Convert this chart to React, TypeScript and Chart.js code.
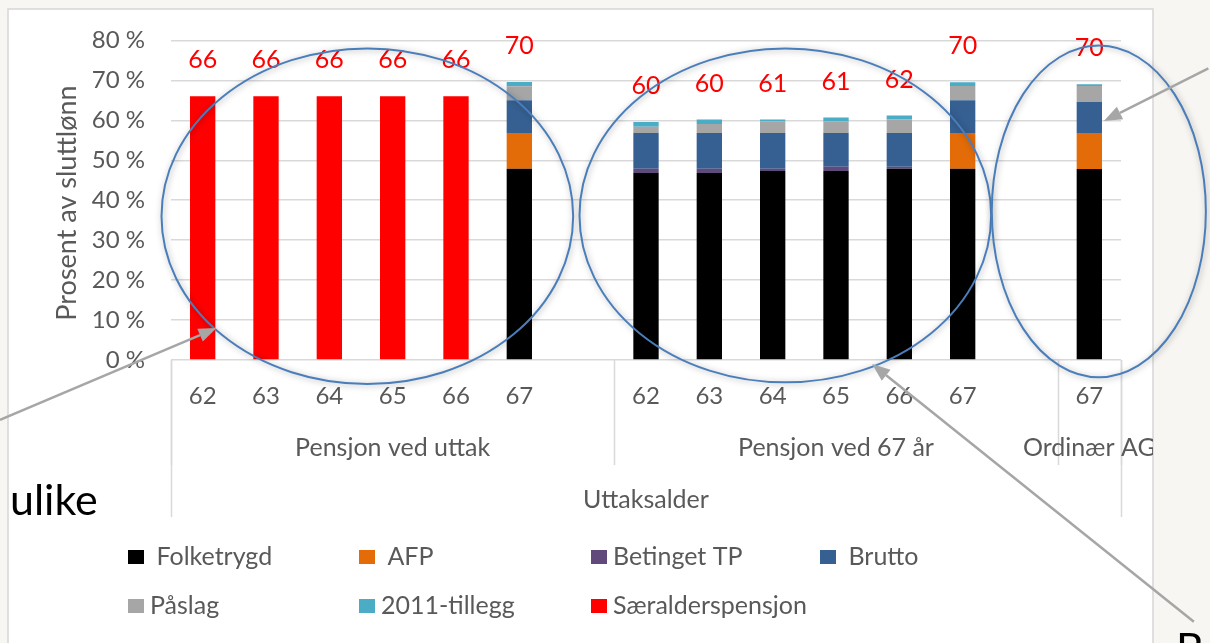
import React, { useEffect, useRef } from 'react';
import { Chart, registerables } from 'chart.js';

Chart.register(...registerables);

// ---------- data ----------
const categories = ['62', '63', '64', '65', '66', '67', '', '62', '63', '64', '65', '66', '67', '', '67'];
const folketrygd = [null, null, null, null, null, 47.9, null, 46.8, 46.8, 47.3, 47.3, 47.9, 47.9, null, 47.8];
const afp = [null, null, null, null, null, 8.9, null, null, null, null, null, null, 8.9, null, 9.0];
const betingetTP = [null, null, null, null, null, null, null, 1.1, 1.1, 0.6, 1.1, 0.5, null, null, null];
const brutto = [null, null, null, null, null, 8.2, null, 8.9, 8.9, 8.9, 8.4, 8.4, 8.2, null, 7.8];
const paslag = [null, null, null, null, null, 3.5, null, 1.6, 2.3, 2.9, 2.9, 3.4, 3.6, null, 4.0];
const tillegg2011 = [null, null, null, null, null, 1.1, null, 1.2, 1.1, 0.5, 1.0, 1.0, 0.9, null, 0.4];
const saeralder = [66, 66, 66, 66, 66, null, null, null, null, null, null, null, null, null, null];
const totalLabels = ['66', '66', '66', '66', '66', '70', '', '60', '60', '61', '61', '62', '70', '', '70'];

const seriesNames = [' Folketrygd', ' AFP', 'Betinget TP', ' Brutto', 'Påslag', '2011-tillegg', 'Særalderspensjon'];
const groupNames = ['Pensjon ved uttak', 'Pensjon ved 67 år', 'Ordinær AG'];
const groupRanges = [[-0.5, 6.5], [6.5, 13.5], [13.5, 14.5]];
const xTitle = 'Uttaksalder';
const yTitle = 'Prosent av sluttlønn';
const yMax = 80;
const yStep = 10;

// annotations (in category index / value units)
const ellipses = [
  { cx: 2.6, cy: 36, rx: 3.25, ry: 42 },
  { cx: 9.2, cy: 36.2, rx: 3.25, ry: 41.8 },
  { cx: 14.15, cy: 37.2, rx: 1.69, ry: 41.5 },
];
const arrows = [
  { x1: -3.2, y1: -15, x2: 0.22, y2: 8 },
  { x1: 15.65, y1: -65.5, x2: 10.57, y2: -1 },
  { x1: 15.88, y1: 73, x2: 14.23, y2: 59.8 },
];

// ---------- styles ----------
const FONT = 'Lato, "Open Sans", sans-serif';
const TEXT = '#595959';
const GRID = '#D9D9D9';
const colors = ['#000000', '#E36C09', '#604A7B', '#366092', '#A6A6A6', '#4BACC6', '#FF0000'];

const decorPlugin = {
  id: 'decor',
  beforeDraw(chart: any) {
    const ctx = chart.ctx;
    ctx.save();
    ctx.fillStyle = '#F7F6F2';
    ctx.fillRect(0, 0, chart.width, chart.height);
    ctx.fillStyle = '#FFFFFF';
    ctx.fillRect(8, 9, 1145, chart.height);
    ctx.strokeStyle = '#D6D6D6';
    ctx.lineWidth = 1.5;
    ctx.strokeRect(8, 9, 1145, chart.height + 20);
    ctx.restore();
  },
  afterDraw(chart: any) {
    const ctx = chart.ctx;
    const xs = chart.scales.x;
    const ys = chart.scales.y;
    const px = (i: number) => xs.getPixelForValue(i);
    const py = (v: number) => ys.getPixelForValue(v);
    const base = py(0);

    ctx.save();
    // category separators
    ctx.strokeStyle = GRID;
    ctx.lineWidth = 1.5;
    const inner = [-0.5, 6.5, 13.5, 14.5];
    inner.forEach((b) => {
      ctx.beginPath();
      ctx.moveTo(Math.round(px(b)) + 0.5, base);
      ctx.lineTo(Math.round(px(b)) + 0.5, 465);
      ctx.stroke();
    });
    [-0.5, 14.5].forEach((b) => {
      ctx.beginPath();
      ctx.moveTo(Math.round(px(b)) + 0.5, base);
      ctx.lineTo(Math.round(px(b)) + 0.5, 517);
      ctx.stroke();
    });

    // group labels (clipped by chart box)
    ctx.save();
    ctx.beginPath();
    ctx.rect(8, 9, 1145, chart.height);
    ctx.clip();
    ctx.fillStyle = TEXT;
    ctx.font = `25px ${FONT}`;
    ctx.textAlign = 'center';
    ctx.textBaseline = 'middle';
    groupNames.forEach((g, k) => {
      const [a, b] = groupRanges[k];
      ctx.fillText(g, px((a + b) / 2), 448);
    });
    ctx.fillText(xTitle, px(7), 500);
    ctx.restore();

    // y title
    ctx.save();
    ctx.translate(76, 203);
    ctx.rotate(-Math.PI / 2);
    ctx.fillStyle = TEXT;
    ctx.font = `27px ${FONT}`;
    ctx.textAlign = 'center';
    ctx.textBaseline = 'alphabetic';
    ctx.fillText(yTitle, 0, 0);
    ctx.restore();

    // total labels
    ctx.fillStyle = '#FF0000';
    ctx.font = `25px ${FONT}`;
    ctx.textAlign = 'center';
    ctx.textBaseline = 'middle';
    categories.forEach((_, i) => {
      if (!totalLabels[i]) return;
      let tot = 0;
      chart.data.datasets.forEach((ds: any) => {
        const v = ds.data[i];
        if (typeof v === 'number') tot += v;
      });
      ctx.fillText(totalLabels[i], px(i), py(tot) - 36);
    });

    // legend
    const cols = [128, 359, 591, 820];
    const rows = [557, 606];
    ctx.font = `25px ${FONT}`;
    ctx.textAlign = 'left';
    ctx.textBaseline = 'middle';
    chart.data.datasets.forEach((ds: any, k: number) => {
      const x = cols[k % 4];
      const y = rows[Math.floor(k / 4)];
      ctx.fillStyle = ds.backgroundColor;
      ctx.fillRect(x, y - 7, 16, 14);
      ctx.fillStyle = TEXT;
      ctx.fillText(ds.label, x + 22, y);
    });

    // ellipses
    ctx.strokeStyle = '#4A7EBB';
    ctx.lineWidth = 2;
    ctx.shadowColor = 'rgba(0,0,0,0.35)';
    ctx.shadowBlur = 6;
    ctx.shadowOffsetX = 1;
    ctx.shadowOffsetY = 1;
    ellipses.forEach((e) => {
      const cx = px(e.cx);
      const cy = py(e.cy);
      const rx = px(e.cx + e.rx) - cx;
      const ry = py(e.cy - e.ry) - cy;
      ctx.beginPath();
      ctx.ellipse(cx, cy, rx, ry, 0, 0, Math.PI * 2);
      ctx.stroke();
    });
    ctx.shadowColor = 'transparent';
    ctx.shadowBlur = 0;
    ctx.shadowOffsetX = 0;
    ctx.shadowOffsetY = 0;

    // arrows
    ctx.strokeStyle = '#A6A6A6';
    ctx.fillStyle = '#A6A6A6';
    ctx.lineWidth = 2.5;
    arrows.forEach((a) => {
      const x1 = px(a.x1), y1 = py(a.y1), x2 = px(a.x2), y2 = py(a.y2);
      const ang = Math.atan2(y2 - y1, x2 - x1);
      const L = 18, W = 7;
      const bx = x2 - L * Math.cos(ang), by = y2 - L * Math.sin(ang);
      ctx.beginPath();
      ctx.moveTo(x1, y1);
      ctx.lineTo(bx, by);
      ctx.stroke();
      ctx.beginPath();
      ctx.moveTo(x2, y2);
      ctx.lineTo(bx + W * Math.sin(ang), by - W * Math.cos(ang));
      ctx.lineTo(bx - W * Math.sin(ang), by + W * Math.cos(ang));
      ctx.closePath();
      ctx.fill();
    });

    // slide text behind the chart
    ctx.fillStyle = '#000000';
    ctx.font = `43px ${FONT}`;
    ctx.textAlign = 'left';
    ctx.textBaseline = 'alphabetic';
    ctx.fillText('ulike', 10, 515);
    ctx.fillText('B', 1176, 664);
    ctx.restore();
  },
};

export default function App() {
  const ref = useRef<HTMLCanvasElement | null>(null);

  useEffect(() => {
    document.body.style.margin = '0';
    const canvas = ref.current;
    if (!canvas) return;
    const seriesData = [folketrygd, afp, betingetTP, brutto, paslag, tillegg2011, saeralder];
    const chart = new Chart(canvas, {
      type: 'bar',
      data: {
        labels: categories,
        datasets: seriesData.map((d, k) => ({
          label: seriesNames[k],
          data: d,
          backgroundColor: colors[k],
          borderWidth: 0,
          barPercentage: 0.4,
          categoryPercentage: 1,
        })),
      },
      options: {
        responsive: false,
        animation: false,
        devicePixelRatio: 1,
        events: [],
        layout: { padding: { top: 40, right: 89, left: 0, bottom: 0 } },
        plugins: {
          legend: { display: false },
          tooltip: { enabled: false },
          title: { display: false },
        },
        scales: {
          x: {
            stacked: true,
            grid: { display: false, drawTicks: false },
            border: { display: false },
            ticks: {
              color: TEXT,
              font: { family: FONT, size: 24 },
              padding: 22,
              autoSkip: false,
              maxRotation: 0,
            },
            afterFit: (s: any) => {
              s.height = 283;
            },
          },
          y: {
            stacked: true,
            min: 0,
            max: yMax,
            grid: { color: GRID, lineWidth: 1.5, drawTicks: false },
            border: { display: false },
            ticks: {
              stepSize: yStep,
              color: TEXT,
              font: { family: FONT, size: 24 },
              padding: 26,
              callback: (v: any) => `${v} %`,
            },
            afterFit: (s: any) => {
              s.width = 171;
            },
          },
        },
      },
      plugins: [decorPlugin],
    });
    return () => chart.destroy();
  }, []);

  return (
    <div style={{ width: 1210, height: 643 }}>
      <canvas ref={ref} width={1210} height={643} style={{ display: 'block' }} />
    </div>
  );
}
